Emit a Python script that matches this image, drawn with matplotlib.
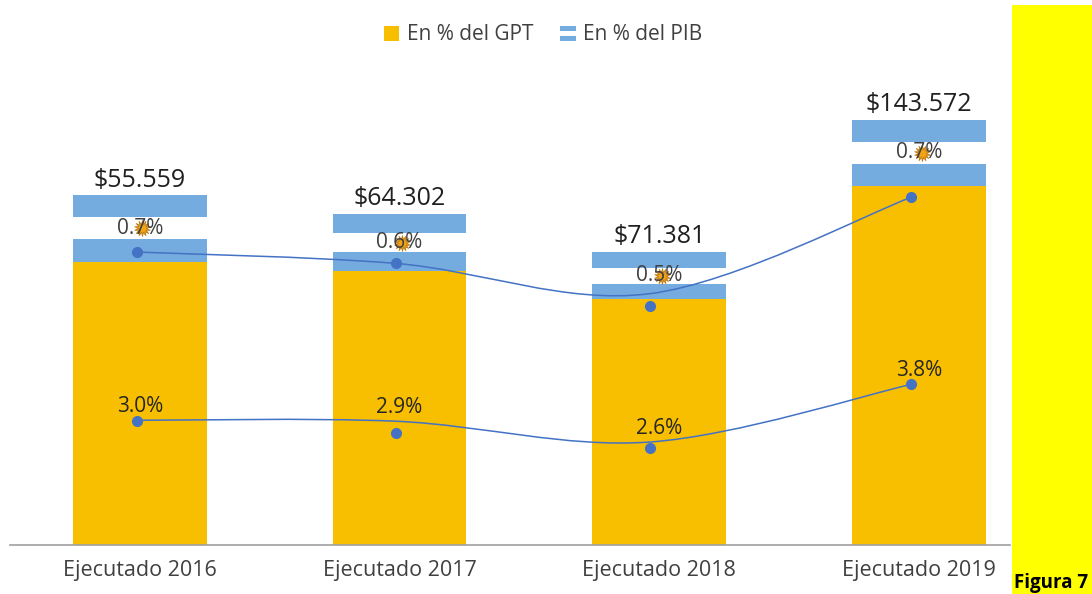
import matplotlib
matplotlib.use("Agg")
import matplotlib.pyplot as plt
from matplotlib.patches import Rectangle, Patch
from matplotlib.path import Path
from matplotlib.patches import PathPatch
from matplotlib.legend_handler import HandlerBase
import numpy as np

# ---------------- data ----------------
categorias = ['Ejecutado 2016', 'Ejecutado 2017', 'Ejecutado 2018', 'Ejecutado 2019']
gpt = [3.0, 2.9, 2.6, 3.8]              # En % del GPT (barra amarilla)
pib = [0.7, 0.6, 0.5, 0.7]              # En % del PIB (barra bandera)
montos = ['$55.559', '$64.302', '$71.381', '$143.572']
gpt_labels = ['3.0%', '2.9%', '2.6%', '3.8%']
pib_labels = ['0.7%', '0.6%', '0.5%', '0.7%']
linea_sup = [3.10, 2.98, 2.66, 3.68]
puntos_sup = [3.10, 2.98, 2.53, 3.68]
linea_inf = [1.32, 1.31, 1.09, 1.70]
puntos_inf = [1.31, 1.19, 1.03, 1.70]

# ---------------- style ----------------
plt.rcParams['font.family'] = ['Open Sans', 'DejaVu Sans']
AMARILLO = '#F8BE00'
CELESTE = '#74ACDF'
SOL = '#F2A416'
AZUL = '#4472C4'
TXT = '#404040'

fig = plt.figure(figsize=(10.92, 5.94), dpi=100)
W, H = 1092, 594
ax = fig.add_axes([10 / W, (H - 545) / H, 1000 / W, 485 / H])
ax.set_xlim(-0.5, 3.35)
ax.set_ylim(0, 485 / 94.5)

x = np.arange(len(categorias))
bw = 0.515
g = np.array(gpt)
p = np.array(pib)
xl = x - np.array([0.01, 0.015, 0.035, 0.03])  # small horizontal shift of the line series

ax.bar(x, g, width=bw, color=AMARILLO, zorder=2)
ax.bar(x, p, bottom=g, width=bw, color=CELESTE, zorder=2)
ax.bar(x, p / 3, bottom=g + p / 3, width=bw, color='white', zorder=2)
ax.scatter(x + 0.01, g + p / 2, s=130, marker=(14, 1, 0), color=SOL, zorder=3,
           linewidths=0.6, edgecolors='#C07A10')


def smooth(xs, ys):
    xs = np.asarray(xs, float)
    ys = np.asarray(ys, float)
    P = np.column_stack([xs, ys])
    Pext = np.vstack([P[0], P, P[-1]])
    verts = [P[0]]
    codes = [Path.MOVETO]
    for i in range(len(P) - 1):
        p0, p1, p2, p3 = Pext[i], Pext[i + 1], Pext[i + 2], Pext[i + 3]
        c1 = p1 + (p2 - p0) / 6
        c2 = p2 - (p3 - p1) / 6
        verts += [c1, c2, p2]
        codes += [Path.CURVE4] * 3
    return Path(verts, codes)


for linea, puntos in [(linea_sup, puntos_sup), (linea_inf, puntos_inf)]:
    ax.add_patch(PathPatch(smooth(xl, linea), facecolor='none', edgecolor=AZUL,
                           lw=1.1, zorder=4))
    ax.plot(xl, puntos, 'o', color=AZUL, ms=8, zorder=5, markeredgewidth=0)

# labels
for i in range(len(x)):
    ax.annotate(montos[i], (x[i], g[i] + p[i]), xytext=(0, 2), textcoords='offset points',
                ha='center', va='bottom', fontsize=18, color='#202020', zorder=6)
    ax.text(x[i], g[i] + p[i] / 2, pib_labels[i], ha='center', va='center',
            fontsize=15, color=TXT, zorder=6)
    ax.annotate(gpt_labels[i], (x[i], linea_inf[i]), xytext=(0, 6), textcoords='offset points',
                ha='center', va='baseline', fontsize=15, color='#262626', zorder=6)

ax.set_xticks(x, categorias)
ax.tick_params(axis='x', length=0, pad=11, labelsize=15.5, labelcolor=TXT)
ax.set_yticks([])
for s in ['left', 'right', 'top']:
    ax.spines[s].set_visible(False)
ax.spines['bottom'].set_color('#A0A0A0')
ax.spines['bottom'].set_linewidth(1.2)


class FlagHandler(HandlerBase):
    def create_artists(self, legend, orig_handle, xdescent, ydescent, width, height,
                       fontsize, trans):
        h3 = height / 3
        arts = []
        for k, c in enumerate([CELESTE, 'white', CELESTE]):
            arts.append(Rectangle((-xdescent, -ydescent + k * h3), width, h3,
                                  facecolor=c, edgecolor='none', transform=trans))
        return arts


h_gpt = Patch(facecolor=AMARILLO, edgecolor='none', label='En % del GPT')
h_pib = Patch(facecolor=CELESTE, edgecolor='none', label='En % del PIB')
fig.legend(handles=[h_gpt, h_pib], handler_map={h_pib: FlagHandler()},
           loc='center', bbox_to_anchor=(543 / W, 1 - 35 / H), ncol=2, frameon=False,
           fontsize=15, handlelength=0.75, handleheight=0.75, handletextpad=0.35,
           columnspacing=1.3, labelcolor=TXT)

# yellow side panel
fig.patches.append(Rectangle((1012 / W, 0), 80 / W, 1 - 5 / H, transform=fig.transFigure,
                             facecolor='#FFFF00', edgecolor='none', zorder=0))
fig.text(1014 / W, 1 - 588 / H, 'Figura 7', fontsize=13.5, fontweight='bold',
         color='black', ha='left', va='baseline')

fig.savefig('out.png', dpi=100)
